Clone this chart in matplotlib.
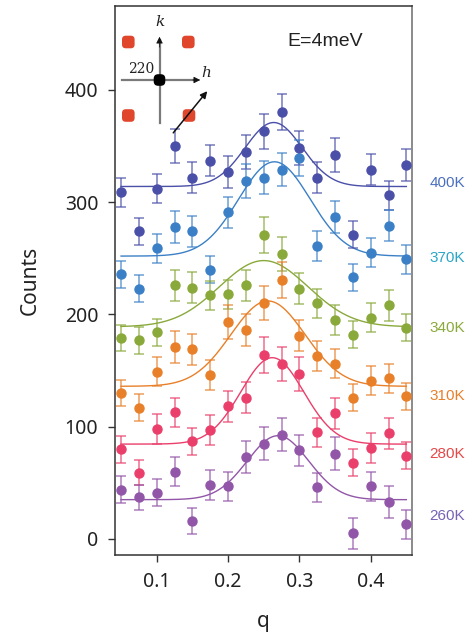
import numpy as np
import matplotlib
matplotlib.use("Agg")
import matplotlib.pyplot as plt
from matplotlib.colors import to_rgba
from matplotlib.patches import FancyBboxPatch, FancyArrowPatch

plt.rcParams['font.family'] = ['Noto Sans', 'DejaVu Sans']

# ---------------- data ----------------
q = [0.05, 0.075, 0.1, 0.125, 0.15, 0.175, 0.2, 0.225, 0.25,
     0.275, 0.3, 0.325, 0.35, 0.375, 0.4, 0.425, 0.45]

temps = ["400K", "370K", "340K", "310K", "280K", "260K"]

c400 = [309, 274, 312, 350, 322, 337, 327, 345, 363, 380, 348, 322, 342, 271, 329, 306, 333]
c370 = [236, 223, 259, 278, 274, 240, 291, 319, 322, 329, 339, 261, 287, 233, 255, 279, 249]
c340 = [179, 177, 184, 226, 224, 217, 218, 226, 271, 254, 223, 210, 195, 182, 197, 208, 188]
c310 = [130, 117, 149, 171, 169, 146, 193, 186, 210, 231, 181, 163, 156, 126, 141, 143, 127]
c280 = [80, 59, 98, 113, 87, 97, 118, 126, 164, 156, 147, 95, 112, 68, 81, 94, 74]
c260 = [44, 37, 41, 60, 16, 48, 47, 73, 85, 93, 79, 46, 76, 5, 47, 33, 13]

e400 = [13, 12, 13, 15, 14, 14, 14, 15, 16, 16, 15, 14, 15, 12, 14, 13, 14]
e370 = [12, 12, 13, 14, 14, 12, 14, 15, 15, 15, 16, 13, 14, 12, 13, 14, 13]
e340 = [12, 12, 12, 14, 14, 13, 13, 14, 16, 15, 14, 13, 13, 12, 13, 14, 12]
e310 = [12, 12, 13, 14, 14, 13, 15, 14, 15, 16, 14, 13, 13, 12, 13, 13, 12]
e280 = [12, 11, 13, 13, 12, 13, 14, 14, 16, 15, 15, 13, 14, 12, 13, 14, 12]
e260 = [12, 11, 12, 13, 12, 13, 13, 14, 15, 15, 14, 13, 15, 14, 13, 14, 13]

# Gaussian fit parameters (baseline, amplitude, centre, width)
fit_base = [314, 252, 189, 136, 84.5, 35]
fit_amp = [57, 84, 59, 76, 77, 57]
fit_q0 = [0.264, 0.265, 0.25, 0.256, 0.262, 0.27]
fit_sig = [0.040, 0.050, 0.062, 0.052, 0.044, 0.043]

counts = [c400, c370, c340, c310, c280, c260]
errors = [e400, e370, e340, e310, e280, e260]

# ---------------- style ----------------
point_colors = ["#4a4fa8", "#3b80c6", "#8aa93b", "#e8802a", "#ea3f6b", "#9256a8"]
label_colors = ["#4b6fc0", "#2aa6c8", "#8aa93b", "#e8802a", "#e64848", "#7762b5"]
label_y = [317, 250, 188, 127, 76, 20]

fig = plt.figure(figsize=(4.73, 6.37), dpi=100)
ax = fig.add_axes([115 / 473, 1 - 555 / 637, (411.7 - 115) / 473, (555 - 6) / 637])

qq = np.linspace(min(q), max(q), 300)
for i in range(len(temps)):
    col = point_colors[i]
    ax.errorbar(q, counts[i], yerr=errors[i], fmt='o', color=col, ms=6.5,
                ecolor=to_rgba(col, 0.75), elinewidth=1.1, capsize=3.5,
                capthick=1.1, zorder=3)
    fit = fit_base[i] + fit_amp[i] * np.exp(-(qq - fit_q0[i]) ** 2 / (2 * fit_sig[i] ** 2))
    ax.plot(qq, fit, color=col, lw=1.0, zorder=2)
    ax.text(0.482, label_y[i], temps[i], color=label_colors[i], fontsize=11,
            family='Liberation Sans',
            ha='left', va='center', transform=ax.transData, clip_on=False)

ax.set_xlim(0.0415, 0.4575)
ax.set_ylim(-14.3, 474.8)
ax.set_xticks([0.1, 0.2, 0.3, 0.4])
ax.set_xticklabels(["0.1", "0.2", "0.3", "0.4"])
ax.set_yticks([0, 100, 200, 300, 400])
ax.tick_params(direction='out', length=5, width=1.0, labelsize=14,
               colors='#333333', labelcolor='#222222', pad=7)
ax.set_xlabel("q", fontsize=15, color='#222222', labelpad=14)
ax.set_ylabel("Counts", fontsize=15, color='#222222', labelpad=17)
for side in ['left', 'bottom', 'top']:
    ax.spines[side].set_color('#333333')
    ax.spines[side].set_linewidth(1.1)
ax.spines['right'].set_color('#8a8a8a')
ax.spines['right'].set_linewidth(1.4)

# ---------------- inset diagram (pixel coordinates) ----------------
ov = fig.add_axes([0, 0, 1, 1], zorder=5)
ov.set_xlim(0, 473)
ov.set_ylim(637, 0)
ov.axis('off')
ov.patch.set_alpha(0)

ov.text(287, 42, "E=4meV", fontsize=14, family='Liberation Sans',
        color='#222222', ha='left', va='center')

ov.plot([159.5, 159.5], [123, 40], color='#7a7a7a', lw=1.6, zorder=1)
ov.add_patch(FancyArrowPatch((159.5, 50), (159.5, 34), arrowstyle='-|>',
                             mutation_scale=10, color='#111111', lw=0.5))
ov.plot([121.5, 196], [80, 80], color='#7a7a7a', lw=1.6, zorder=1)
ov.add_patch(FancyArrowPatch((190, 80), (203, 80), arrowstyle='-|>',
                             mutation_scale=10, color='#111111', lw=0.5))
ov.add_patch(FancyArrowPatch((171.5, 135), (209, 89), arrowstyle='-|>',
                             mutation_scale=10, color='#111111', lw=1.1, zorder=3))
for (cx, cy) in [(128.3, 42), (188.3, 42), (128.3, 115.5), (189, 115.5)]:
    ov.add_patch(FancyBboxPatch((cx - 5, cy - 5), 10, 10,
                                boxstyle="round,pad=1.3,rounding_size=3.8",
                                fc='#e0462c', ec='none', zorder=2))
ov.add_patch(FancyBboxPatch((154.5, 75), 10, 10,
                            boxstyle="round,pad=0.8,rounding_size=4.5",
                            fc='#000000', ec='none', zorder=4))
ov.text(159.5, 22, "k", fontsize=11, family='DejaVu Serif', style='italic',
        ha='center', va='center', color='#222222')
ov.text(206, 73, "h", fontsize=11, family='DejaVu Serif', style='italic',
        ha='center', va='center', color='#222222')
ov.text(141.5, 69, "220", fontsize=10, family='DejaVu Serif',
        ha='center', va='center', color='#222222')

fig.savefig("out.png", dpi=100)
